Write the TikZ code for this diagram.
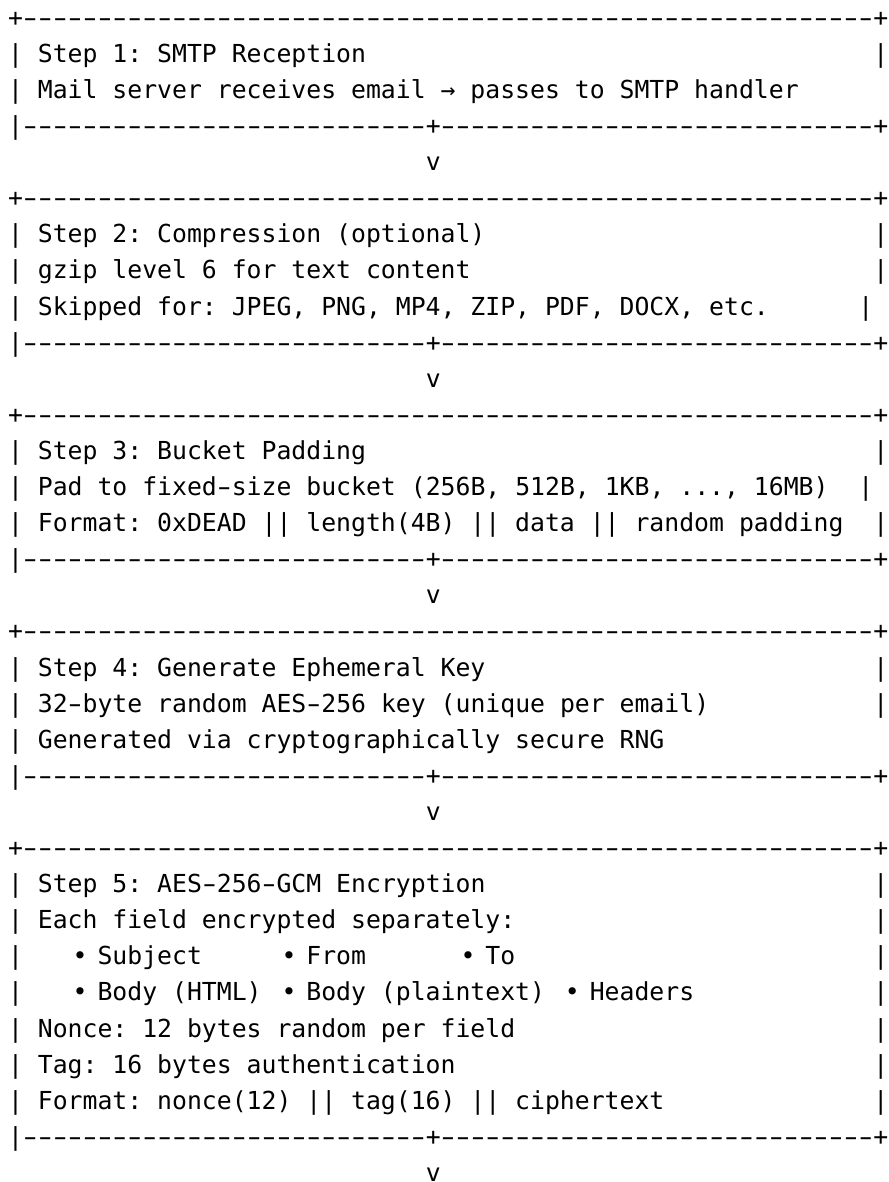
\documentclass[tikz,border=0pt]{standalone}
\usepackage{fontspec}
\setmonofont{DejaVu Sans Mono}
\usepackage{graphicx}
\newlength\cw
\setlength\cw{14.9188pt}
\newcommand\hs{1.6}
\newcommand\hy{\makebox[\cw]{\scalebox{\hs}[1]{-}}}
\ExplSyntaxOn
\cs_new_eq:NN \Rep \prg_replicate:nn
\ExplSyntaxOff
\newcommand\gap[1]{\hspace*{#1\cw}}
\newcommand\tline{+\Rep{57}{\hy}+}
\newcommand\mline{|\Rep{27}{\hy}+\Rep{29}{\hy}+}
\newcommand\bul{\makebox[\cw]{\kern5pt•\kern-5pt}}
\newcommand\row[4]{\node[txt] (#1) at ({8.04+14.9188*#2},{-26.2-36.1*#3}) {#4};}
\frenchspacing
\begin{document}
\begin{tikzpicture}[x=1pt,y=1pt,
  txt/.style={anchor=base west,inner sep=0pt,outer sep=0pt,
    font=\ttfamily\fontsize{24.78pt}{36pt}\selectfont}]
\fill[white] (0,0) rectangle (888,-1182);
\useasboundingbox (0,0) rectangle (888,-1182);
% Step 1
\row{t1}{0}{0}{\tline}
\row{s1a}{0}{1}{| Step 1: SMTP Reception}
\row{s1ar}{58}{1}{|}
\row{s1b}{0}{2}{| Mail server receives email → passes to SMTP handler}
\row{m1}{0}{3}{\mline}
\row{v1}{28}{4}{v}
% Step 2
\row{t2}{0}{5}{\tline}
\row{s2a}{0}{6}{| Step 2: Compression (optional)}
\row{s2ar}{58}{6}{|}
\row{s2b}{0}{7}{| gzip level 6 for text content}
\row{s2br}{58}{7}{|}
\row{s2c}{0}{8}{| Skipped for: JPEG, PNG, MP4, ZIP, PDF, DOCX, etc.}
\row{s2cr}{57}{8}{|}
\row{m2}{0}{9}{\mline}
\row{v2}{28}{10}{v}
% Step 3
\row{t3}{0}{11}{\tline}
\row{s3a}{0}{12}{| Step 3: Bucket Padding}
\row{s3ar}{58}{12}{|}
\row{s3b}{0}{13}{| Pad to fixed\hy size bucket (256B, 512B, 1KB, ..., 16MB)}
\row{s3br}{57}{13}{|}
\row{s3c}{0}{14}{| Format: 0xDEAD || length(4B) || data || random padding}
\row{s3cr}{58}{14}{|}
\row{m3}{0}{15}{\mline}
\row{v3}{28}{16}{v}
% Step 4
\row{t4}{0}{17}{\tline}
\row{s4a}{0}{18}{| Step 4: Generate Ephemeral Key}
\row{s4ar}{58}{18}{|}
\row{s4b}{0}{19}{| 32\hy byte random AES\hy 256 key (unique per email)}
\row{s4br}{58}{19}{|}
\row{s4c}{0}{20}{| Generated via cryptographically secure RNG}
\row{m4}{0}{21}{\mline}
\row{v4}{28}{22}{v}
% Step 5
\row{t5}{0}{23}{\tline}
\row{s5a}{0}{24}{| Step 5: AES\hy 256\hy GCM Encryption}
\row{s5ar}{58}{24}{|}
\row{s5b}{0}{25}{| Each field encrypted separately:}
\row{s5br}{58}{25}{|}
\row{s5c}{0}{26}{|\gap{3}\bul{} Subject\gap{5}\bul{} From\gap{6}\bul{} To}
\row{s5cr}{58}{26}{|}
\row{s5d}{0}{27}{|\gap{3}\bul{} Body (HTML) \bul{} Body (plaintext) \bul{} Headers}
\row{s5dr}{58}{27}{|}
\row{s5e}{0}{28}{| Nonce: 12 bytes random per field}
\row{s5er}{58}{28}{|}
\row{s5f}{0}{29}{| Tag: 16 bytes authentication}
\row{s5fr}{58}{29}{|}
\row{s5g}{0}{30}{| Format: nonce(12) || tag(16) || ciphertext}
\row{s5gr}{58}{30}{|}
\row{m5}{0}{31}{\mline}
\row{v5}{28}{32}{v}
\end{tikzpicture}
\end{document}
